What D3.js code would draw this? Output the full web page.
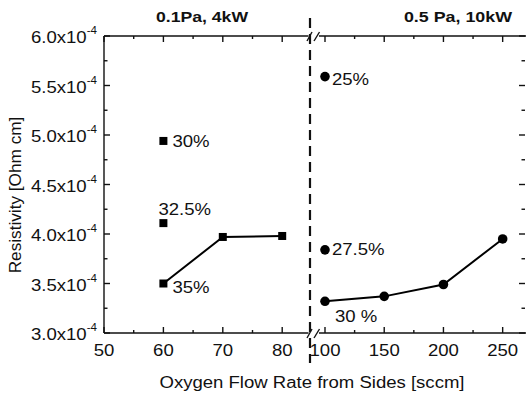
<!DOCTYPE html>
<html>
<head>
<meta charset="utf-8">
<script src="https://cdn.jsdelivr.net/npm/d3@7"></script>
<style>
  body { margin: 0; background: #fff; }
  svg { display: block; font-family: "Liberation Sans", Arial, sans-serif; }
</style>
</head>
<body>
<svg id="chart" width="526" height="396"></svg>
<script>
// left panel (0.1Pa, 4kW) - squares
const leftLineFlow = [60, 70, 80];
const leftLineRes = [3.50e-4, 3.97e-4, 3.98e-4];
const leftSingleFlow = [60, 60];
const leftSingleRes = [4.94e-4, 4.11e-4];
const leftLabels = ["30%", "32.5%", "35%"];

// right panel (0.5 Pa, 10kW) - circles
const rightLineFlow = [100, 150, 200, 250];
const rightLineRes = [3.32e-4, 3.37e-4, 3.49e-4, 3.95e-4];
const rightSingleFlow = [100, 100];
const rightSingleRes = [5.59e-4, 3.84e-4];
const rightLabels = ["25%", "27.5%", "30 %"];

const leftTicks = [50, 60, 70, 80];
const leftMinor = [55, 65, 75];
const rightTicks = [100, 150, 200, 250];
const rightMinor = [125, 175, 225];
const yTicks = [3.0e-4, 3.5e-4, 4.0e-4, 4.5e-4, 5.0e-4, 5.5e-4, 6.0e-4];
const yMinor = [3.25e-4, 3.75e-4, 4.25e-4, 4.75e-4, 5.25e-4, 5.75e-4];

const svg = d3.select("#chart");
const plotTop = 36, plotBottom = 333, plotLeft = 104, plotRight = 526, brk = 310;
const stretch = 1.16; // text in the original is a bit wide

const xL = d3.scaleLinear().domain([50, 84.68]).range([plotLeft, brk]);
const xR = d3.scaleLinear().domain([87.34, 269.7]).range([brk, plotRight]);
const y = d3.scaleLinear().domain([3.0e-4, 6.0e-4]).range([plotBottom, plotTop]);

const axisColor = "#111";

// frame lines
const g = svg.append("g").attr("stroke", axisColor).attr("stroke-width", 1.4).attr("fill", "none");
g.append("line").attr("x1", plotLeft).attr("x2", plotLeft).attr("y1", plotTop).attr("y2", plotBottom);
[plotTop, plotBottom].forEach(yy => {
  g.append("line").attr("x1", plotLeft).attr("x2", 308.5).attr("y1", yy).attr("y2", yy);
  g.append("line").attr("x1", 319).attr("x2", plotRight).attr("y1", yy).attr("y2", yy);
  g.append("line").attr("x1", 307).attr("y1", yy + 5).attr("x2", 312).attr("y2", yy - 4);
  g.append("line").attr("x1", 314).attr("y1", yy + 5).attr("x2", 319.5).attr("y2", yy - 4);
});

// x ticks, inward on bottom and top
function xTicks(scale, vals, len) {
  vals.forEach(v => {
    const xx = scale(v);
    g.append("line").attr("x1", xx).attr("x2", xx).attr("y1", plotBottom).attr("y2", plotBottom - len);
    g.append("line").attr("x1", xx).attr("x2", xx).attr("y1", plotTop).attr("y2", plotTop + len);
  });
}
xTicks(xL, leftTicks, 6);
xTicks(xL, leftMinor, 3);
xTicks(xR, rightTicks, 6);
xTicks(xR, rightMinor, 3);

// y ticks, inward on left and right
function yTickLines(vals, len) {
  vals.forEach(v => {
    const yy = y(v);
    g.append("line").attr("x1", plotLeft).attr("x2", plotLeft + len).attr("y1", yy).attr("y2", yy);
    g.append("line").attr("x1", plotRight - 1).attr("x2", plotRight - 1 - len).attr("y1", yy).attr("y2", yy);
  });
}
yTickLines(yTicks, 6);
yTickLines(yMinor, 3.5);

// text helper, stretched horizontally around its anchor
const labels = svg.append("g").attr("fill", "#111").attr("font-size", 16);
function label(x, yy, str, anchor) {
  return labels.append("text")
    .attr("transform", `translate(${x},${yy}) scale(${stretch},1)`)
    .attr("text-anchor", anchor || "start")
    .text(str);
}

leftTicks.forEach(v => label(xL(v), 356, v, "middle"));
rightTicks.forEach(v => label(xR(v), 356, v, "middle"));
yTicks.forEach(v => {
  const t = label(97, y(v) + 7, null, "end");
  t.append("tspan").text((v * 1e4).toFixed(1) + "x10");
  t.append("tspan").attr("font-size", 10).attr("dy", -9).text("-4");
});

// axis titles
label(312, 388, "Oxygen Flow Rate from Sides [sccm]", "middle");
labels.append("text").attr("transform", "translate(21,195) rotate(-90) scale(1.075,1)")
  .attr("text-anchor", "middle").text("Resistivity [Ohm cm]");

// panel titles
label(202, 22, "0.1Pa, 4kW", "middle").attr("font-weight", "bold").attr("font-size", 15.2);
label(512, 22, "0.5 Pa, 10kW", "end").attr("font-weight", "bold").attr("font-size", 15.4);

// break dashed line
svg.append("line").attr("x1", brk).attr("x2", brk).attr("y1", 18).attr("y2", 363)
  .attr("stroke", "#111").attr("stroke-width", 2.2).attr("stroke-dasharray", "10,6");

// data lines
const line = (sx) => d3.line().x(d => sx(d[0])).y(d => y(d[1]));
const leftLine = leftLineFlow.map((f, i) => [f, leftLineRes[i]]);
const rightLine = rightLineFlow.map((f, i) => [f, rightLineRes[i]]);
svg.append("path").datum(leftLine).attr("d", line(xL))
  .attr("fill", "none").attr("stroke", "#000").attr("stroke-width", 2);
svg.append("path").datum(rightLine).attr("d", line(xR))
  .attr("fill", "none").attr("stroke", "#000").attr("stroke-width", 2);

// squares
const sq = 8;
const squares = leftLine.concat(leftSingleFlow.map((f, i) => [f, leftSingleRes[i]]));
svg.append("g").selectAll("rect").data(squares).enter().append("rect")
  .attr("x", d => xL(d[0]) - sq / 2).attr("y", d => y(d[1]) - sq / 2)
  .attr("width", sq).attr("height", sq).attr("fill", "#000");

// circles
const circles = rightLine.concat(rightSingleFlow.map((f, i) => [f, rightSingleRes[i]]));
svg.append("g").selectAll("circle").data(circles).enter().append("circle")
  .attr("cx", d => xR(d[0])).attr("cy", d => y(d[1])).attr("r", 4.8).attr("fill", "#000");

// point annotations
const leftAnn = [
  { f: leftSingleFlow[0], r: leftSingleRes[0], dx: 9, dy: 6 },
  { f: leftSingleFlow[1], r: leftSingleRes[1], dx: -5, dy: -8 },
  { f: leftLineFlow[0], r: leftLineRes[0], dx: 9, dy: 9 }
];
leftAnn.forEach((a, i) => label(xL(a.f) + a.dx, y(a.r) + a.dy, leftLabels[i]));
const rightAnn = [
  { f: rightSingleFlow[0], r: rightSingleRes[0], dx: 7, dy: 8 },
  { f: rightSingleFlow[1], r: rightSingleRes[1], dx: 7, dy: 5 },
  { f: rightLineFlow[0], r: rightLineRes[0], dx: 10, dy: 21 }
];
rightAnn.forEach((a, i) => label(xR(a.f) + a.dx, y(a.r) + a.dy, rightLabels[i]));
</script>
</body>
</html>
